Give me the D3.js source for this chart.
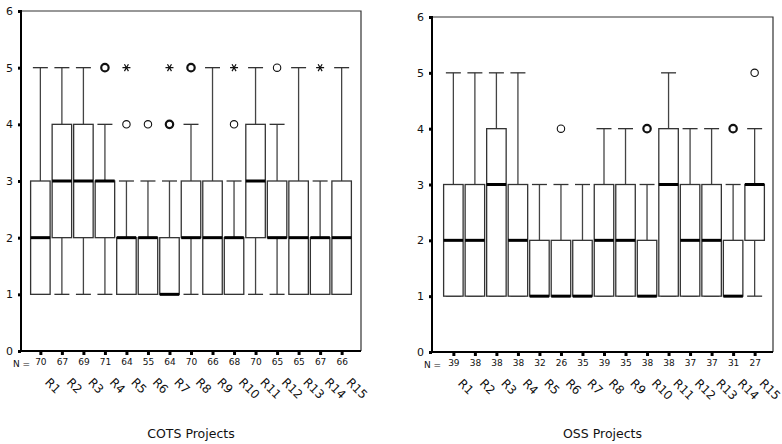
<!DOCTYPE html>
<html>
<head>
<meta charset="utf-8">
<script src="https://cdn.jsdelivr.net/npm/d3@7"></script>
<style>
  html, body { margin: 0; padding: 0; background: #fff; }
  svg { display: block; }
  text { font-family: "DejaVu Sans", sans-serif; fill: #111; }
</style>
</head>
<body>
<svg id="chart" width="782" height="444"></svg>
<script>
// ---------- DATA ----------
const categories = ["R1","R2","R3","R4","R5","R6","R7","R8","R9","R10","R11","R12","R13","R14","R15"];
const yTicks = [0,1,2,3,4,5,6];

// COTS Projects
const cotsN      = [70,67,69,71,64,55,64,70,66,68,70,65,65,67,66];
const cotsLow    = [1,1,1,1,1,1,1,1,1,1,1,1,1,1,1];
const cotsQ1     = [1,2,2,2,1,1,1,2,1,1,2,2,1,1,1];
const cotsMedian = [2,3,3,3,2,2,1,2,2,2,3,2,2,2,2];
const cotsQ3     = [3,4,4,3,2,2,2,3,3,2,4,3,3,2,3];
const cotsHigh   = [5,5,5,4,3,3,3,4,5,3,5,4,5,3,5];
const cotsOutCat   = ["R4","R5","R6","R7","R8","R10","R12"];
const cotsOutVal   = [5,4,4,4,5,4,5];
const cotsOutCount = [2,1,1,2,2,1,1];
const cotsExtCat   = ["R5","R7","R10","R14"];
const cotsExtVal   = [5,5,5,5];

// OSS Projects
const ossN      = [39,38,38,38,32,26,35,39,35,38,38,37,37,31,27];
const ossLow    = [1,1,1,1,1,1,1,1,1,1,1,1,1,1,1];
const ossQ1     = [1,1,1,1,1,1,1,1,1,1,1,1,1,1,2];
const ossMedian = [2,2,3,2,1,1,1,2,2,1,3,2,2,1,3];
const ossQ3     = [3,3,4,3,2,2,2,3,3,2,4,3,3,2,3];
const ossHigh   = [5,5,5,5,3,3,3,4,4,3,5,4,4,3,4];
const ossOutCat   = ["R6","R10","R14","R15"];
const ossOutVal   = [4,4,4,5];
const ossOutCount = [1,2,2,1];
const ossExtCat   = [];
const ossExtVal   = [];

const panels = [
  { title: "COTS Projects", n: cotsN, lo: cotsLow, q1: cotsQ1, med: cotsMedian, q3: cotsQ3, hi: cotsHigh,
    outCat: cotsOutCat, outVal: cotsOutVal, outCount: cotsOutCount, extCat: cotsExtCat, extVal: cotsExtVal,
    x0: 21, x1: 361, r0: 21, r1: 361, yTop: 11, yBot: 351 },
  { title: "OSS Projects", n: ossN, lo: ossLow, q1: ossQ1, med: ossMedian, q3: ossQ3, hi: ossHigh,
    outCat: ossOutCat, outVal: ossOutVal, outCount: ossOutCount, extCat: ossExtCat, extVal: ossExtVal,
    x0: 432, x1: 773, r0: 434, r1: 774, yTop: 17, yBot: 352 }
];

const svg = d3.select("#chart");
const boxW = 19.5, capW = 15;

panels.forEach(p => {
  const g = svg.append("g");
  const x = d3.scalePoint().domain(categories).range([p.r0, p.r1]).padding(0.9);
  const y = d3.scaleLinear().domain([0, 6]).range([p.yBot, p.yTop]);

  // frame (top and right)
  g.append("path")
    .attr("d", `M${p.x0},${p.yTop}H${p.x1}V${p.yBot}`)
    .attr("fill", "none").attr("stroke", "#333").attr("stroke-width", 1.2);

  // boxes
  categories.forEach((c, i) => {
    const cx = x(c);
    const bg = g.append("g");
    bg.append("line").attr("x1", cx).attr("x2", cx).attr("y1", y(p.q3[i])).attr("y2", y(p.hi[i]))
      .attr("stroke", "#444").attr("stroke-width", 1.3);
    bg.append("line").attr("x1", cx).attr("x2", cx).attr("y1", y(p.q1[i])).attr("y2", y(p.lo[i]))
      .attr("stroke", "#444").attr("stroke-width", 1.3);
    bg.append("line").attr("x1", cx - capW/2).attr("x2", cx + capW/2).attr("y1", y(p.hi[i])).attr("y2", y(p.hi[i]))
      .attr("stroke", "#333").attr("stroke-width", 1.3);
    bg.append("line").attr("x1", cx - capW/2).attr("x2", cx + capW/2).attr("y1", y(p.lo[i])).attr("y2", y(p.lo[i]))
      .attr("stroke", "#333").attr("stroke-width", 1.3);
    bg.append("rect").attr("x", cx - boxW/2).attr("width", boxW)
      .attr("y", y(p.q3[i])).attr("height", y(p.q1[i]) - y(p.q3[i]))
      .attr("fill", "#fff").attr("stroke", "#333").attr("stroke-width", 1.3);
    bg.append("line").attr("x1", cx - boxW/2).attr("x2", cx + boxW/2)
      .attr("y1", y(p.med[i])).attr("y2", y(p.med[i]))
      .attr("stroke", "#000").attr("stroke-width", 3);
  });

  // outliers (circles)
  p.outCat.forEach((c, i) => {
    g.append("circle").attr("cx", x(c)).attr("cy", y(p.outVal[i])).attr("r", 3.7)
      .attr("fill", "none").attr("stroke", "#111")
      .attr("stroke-width", p.outCount[i] > 1 ? 2.2 : 1.1);
  });
  // extremes (asterisks)
  p.extCat.forEach((c, i) => {
    const cx = x(c), cy = y(p.extVal[i]), r = 4;
    const path = [0, 60, 120].map(a => {
      const rad = a * Math.PI / 180;
      const dx = r * Math.cos(rad), dy = r * Math.sin(rad);
      return `M${cx - dx},${cy - dy}L${cx + dx},${cy + dy}`;
    }).join("");
    g.append("path").attr("d", path).attr("stroke", "#111").attr("stroke-width", 1.2).attr("fill", "none");
  });

  // y axis
  const yAxis = g.append("g").attr("transform", `translate(${p.x0},0)`)
    .call(d3.axisLeft(y).tickValues(yTicks).tickFormat(d3.format("d")).tickSize(3).tickPadding(5));
  yAxis.select(".domain").remove();
  yAxis.selectAll(".tick line").attr("stroke", "#000").attr("stroke-width", 3);
  yAxis.selectAll(".tick text").attr("font-size", 11).attr("font-family", "DejaVu Sans, sans-serif").attr("fill", "#111");

  // x axis with N labels
  const xAxis = g.append("g").attr("transform", `translate(0,${p.yBot})`)
    .call(d3.axisBottom(x).tickSize(4).tickPadding(4).tickFormat((d, i) => p.n[i]));
  xAxis.select(".domain").remove();
  xAxis.selectAll(".tick line").attr("stroke", "#000").attr("stroke-width", 3);
  xAxis.selectAll(".tick text").attr("font-size", 9)
    .attr("font-family", "DejaVu Sans Condensed, DejaVu Sans, sans-serif").attr("fill", "#222");

  // axis lines (thick left & bottom)
  g.append("path").attr("d", `M${p.x0},${p.yTop - 1}V${p.yBot}H${p.x1}`)
    .attr("fill", "none").attr("stroke", "#000").attr("stroke-width", 2);

  // "N =" label
  g.append("text").attr("x", p.x0 - 8).attr("y", p.yBot + 16)
    .attr("text-anchor", "start").attr("font-size", 9)
    .attr("font-family", "DejaVu Sans Condensed, DejaVu Sans, sans-serif").attr("fill", "#222").text("N =");

  // rotated category labels
  categories.forEach(c => {
    g.append("text")
      .attr("transform", `translate(${x(c) + 4},${p.yBot + 32}) rotate(45)`)
      .attr("font-size", 12).attr("text-anchor", "start").text(c);
  });

  // title
  g.append("text").attr("x", (p.x0 + p.x1) / 2).attr("y", 438)
    .attr("text-anchor", "middle").attr("font-size", 12.5).text(p.title);
});
</script>
</body>
</html>
